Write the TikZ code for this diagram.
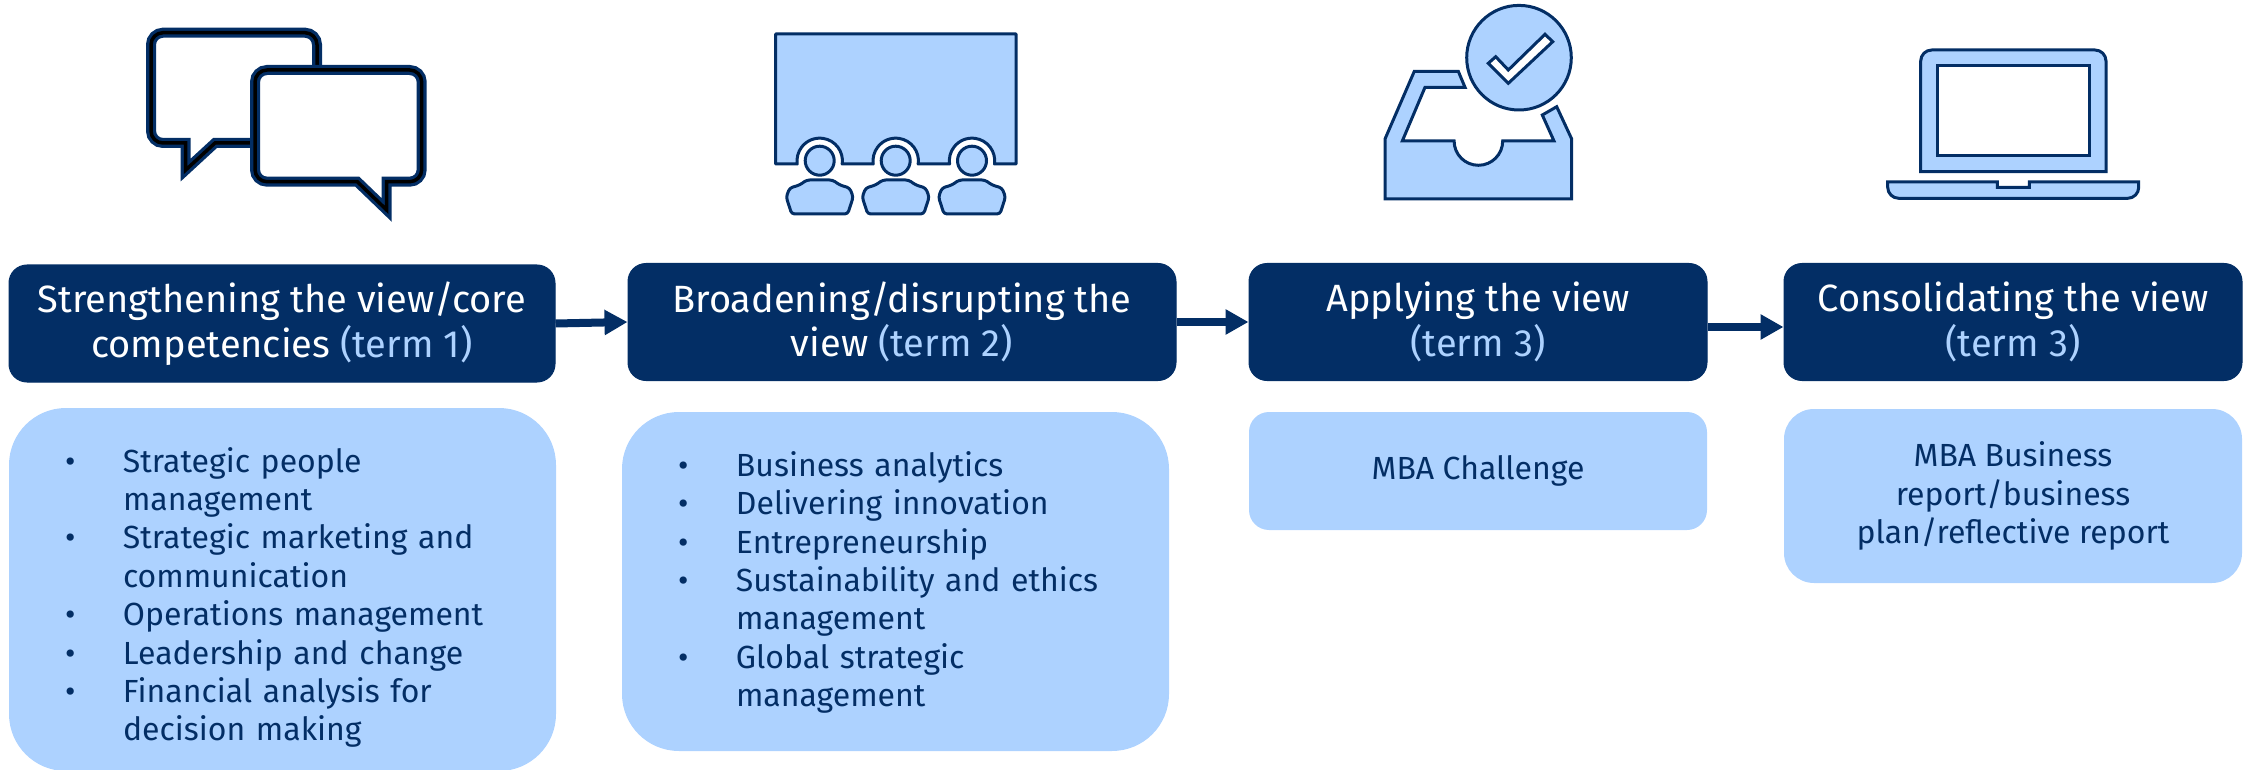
\documentclass[tikz,border=0pt]{standalone}
\usepackage{fontspec}
\setmainfont{Fira Sans}
\usetikzlibrary{arrows.meta}
\definecolor{navy}{HTML}{032E65}
\definecolor{sky}{HTML}{ADD2FF}
\newcommand{\hd}{\fontsize{38}{44.5}\selectfont}
\newcommand{\bd}{\fontsize{32}{38.4}\selectfont}
\newcommand{\trm}[1]{\textcolor{sky}{#1}}
\newcommand{\itm}[1]{\makebox[58pt][l]{•}#1}
\newcommand{\cnt}[1]{\hspace*{58pt}#1}
\tikzset{
 x=1pt,y=1pt,
 headbox/.style={draw=navy,fill=navy,line width=1pt,rounded corners=18pt,text=white,font=\hd,align=center,inner sep=0pt},
 bodybox/.style={fill=sky,text=navy,font=\bd,inner sep=0pt},
 flow/.style={draw=navy,line width=8pt,-{Triangle[length=23pt,width=24pt]},shorten >=0pt},
 icon/.style={draw=navy,line width=3pt,fill=sky,line join=round},
 bubnavy/.style={draw=navy,line width=10pt,line join=miter},
 bubblack/.style={draw=black,line width=3.5pt,line join=miter}
}
\begin{document}
\begin{tikzpicture}
\useasboundingbox (0,0) rectangle (2252,-770);
% headers
\node[headbox,minimum width=546pt,minimum height=117pt] (h1) at (282,-323.5) {Strengthening the view/core\\competencies \trm{(term 1)}};
\node[headbox,minimum width=548pt,minimum height=117pt] (h2) at (902,-322) {Broadening/disrupting the\\view \trm{(term 2)}};
\node[headbox,minimum width=458pt,minimum height=117pt] (h3) at (1478,-322) {Applying the view\\\trm{(term 3)}};
\node[headbox,minimum width=458pt,minimum height=117pt] (h4) at (2013,-322) {Consolidating the view\\\trm{(term 3)}};
% arrows
\draw[flow] (h1.east) -- (h2.west);
\draw[flow] (h2.east) -- (h3.west);
\draw[flow] ([yshift=-5pt]h3.east) -- ([yshift=-5pt]h4.west);
% bodies
\node[bodybox,rounded corners=57pt,minimum width=547pt,minimum height=363pt,text width=435pt,align=left] (b1) at (282.5,-589.5) {\rule{0pt}{41pt}\itm{Strategic people}\\\cnt{management}\\\itm{Strategic marketing and}\\\cnt{communication}\\\itm{Operations management}\\\itm{Leadership and change}\\\itm{Financial analysis for}\\\cnt{decision making}};
\node[bodybox,rounded corners=57pt,minimum width=547pt,minimum height=339pt,text width=435pt,align=left] (b2) at (895.5,-581.5) {\rule{0pt}{27pt}\itm{Business analytics}\\\itm{Delivering innovation}\\\itm{Entrepreneurship}\\\itm{Sustainability and ethics}\\\cnt{management}\\\itm{Global strategic}\\\cnt{management}};
\node[bodybox,rounded corners=20pt,minimum width=458pt,minimum height=118pt,align=center] (b3) at (1478,-471) {MBA Challenge};
\node[bodybox,rounded corners=30pt,minimum width=458pt,minimum height=174pt,align=center] (b4) at (2013,-496) {MBA Business\\report/business\\plan/reflective report};
% speech bubbles
\draw[bubnavy,rounded corners=0pt] (253,-143) -- (215,-143) -- (185.7,-170) -- (185.7,-143) [rounded corners=12pt] -- (151,-143) -- (151,-32.7) -- (317,-32.7) -- (317,-70);
\draw[bubblack,rounded corners=0pt] (253,-143) -- (215,-143) -- (185.7,-170) -- (185.7,-143) [rounded corners=12pt] -- (151,-143) -- (151,-32.7) -- (317,-32.7) -- (317,-70);
\draw[bubnavy,fill=white,rounded corners=0pt] (357.3,-181.7) -- (386.7,-210) -- (386.7,-181.7) [rounded corners=12pt] -- (421.7,-181.7) -- (421.7,-70) -- (255,-70) -- (255,-181.7) [rounded corners=0pt] -- cycle;
\draw[bubblack,rounded corners=0pt] (357.3,-181.7) -- (386.7,-210) -- (386.7,-181.7) [rounded corners=12pt] -- (421.7,-181.7) -- (421.7,-70) -- (255,-70) -- (255,-181.7) [rounded corners=0pt] -- cycle;
% screen and audience
\draw[icon] (775.7,-34) -- (1016,-34) -- (1016,-164) -- (994.5,-164) arc[start angle=-8,end angle=188,radius=22.7pt] -- (918.2,-164) arc[start angle=-8,end angle=188,radius=22.7pt] -- (842.2,-164) arc[start angle=-8,end angle=188,radius=22.7pt] -- (775.7,-164) -- cycle;
\foreach \cx in {819.7,895.7,972}{
 \draw[icon] (\cx,-160.7) circle[radius=14.5pt];
 \draw[icon,rounded corners=3pt] (\cx-28,-214) -- (\cx+28,-214) -- (\cx+33.5,-197) -- (\cx+30,-188) -- (\cx+20,-185) -- (\cx+13,-180) -- (\cx-13,-180) -- (\cx-20,-185) -- (\cx-30,-188) -- (\cx-33.5,-197) -- cycle;
}
% tray and tick
\draw[icon,line join=miter] (1385,-199) -- (1571.7,-199) -- (1571.7,-139) -- (1556.7,-106.7) -- (1542.3,-115) -- (1554,-141) -- (1502.7,-141) arc[start angle=0,end angle=-180,radius=24.3pt] -- (1402.3,-141) -- (1425,-87.3) -- (1465,-87.3) -- (1458.3,-71.3) -- (1414.3,-71.3) -- (1385,-139) -- cycle;
\draw[icon] (1519,-57.7) circle[radius=52.3pt];
\draw[draw=navy,line width=3pt,fill=white,line join=miter] (1488.3,-63.3) -- (1495.7,-56.7) -- (1508.3,-70) -- (1545,-34.3) -- (1552.7,-41.7) -- (1508.3,-83.3) -- cycle;
% laptop
\draw[icon,line join=miter] (1920.7,-171.7) -- (1920.7,-61) arc[start angle=180,end angle=90,radius=11pt] -- (2095,-50) arc[start angle=90,end angle=0,radius=11pt] -- (2106,-171.7) -- cycle;
\draw[draw=navy,line width=3pt,fill=white] (1937,-65.7) rectangle (2089.3,-156);
\draw[icon,line join=miter] (1887.7,-182) -- (1997.3,-182) -- (1997.3,-187.3) -- (2029.3,-187.3) -- (2029.3,-182) -- (2138.7,-182) -- (2138.7,-187.3) arc[start angle=0,end angle=-90,radius=11pt] -- (1898.7,-198.3) arc[start angle=270,end angle=180,radius=11pt] -- cycle;
\end{tikzpicture}
\end{document}
